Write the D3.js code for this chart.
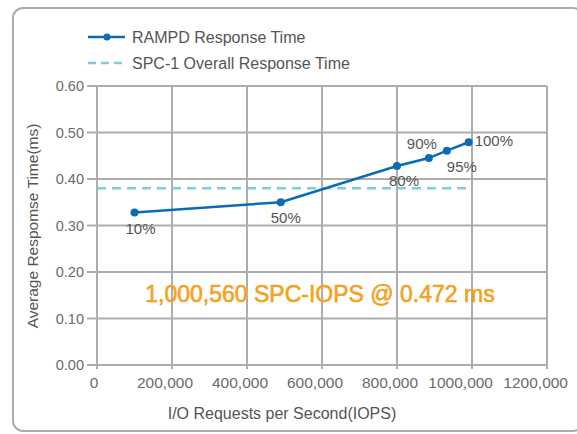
<!DOCTYPE html>
<html>
<head>
<meta charset="utf-8">
<script src="https://d3js.org/d3.v7.min.js"></script>
<style>
  body { margin: 0; background: #fff; }
  text { font-family: "Liberation Sans", Arial, sans-serif; }
</style>
</head>
<body>
<div id="chart"></div>
<script>

// data
const loadLabels = ["10%", "50%", "80%", "90%", "95%", "100%"];
const iops = [100000, 490000, 800000, 885000, 933000, 991000];
const respTime = [0.328, 0.350, 0.428, 0.445, 0.461, 0.479];
const overallResp = 0.380;
const overallRange = [0, 1000000];
const xTicks = [0, 200000, 400000, 600000, 800000, 1000000, 1200000];
const xTickLabels = ["0", "200,000", "400,000", "600,000", "800,000", "1000,000", "1200,000"];
const yTicks = [0, 0.1, 0.2, 0.3, 0.4, 0.5, 0.6];

const W = 577, H = 434;
const margin = {top: 86, right: 30, bottom: 69, left: 97};

const svg = d3.select("#chart").append("svg")
    .attr("width", W)
    .attr("height", H);

// rounded frame
svg.append("rect")
    .attr("x", 13).attr("y", 8)
    .attr("width", 570).attr("height", 423)
    .attr("rx", 10)
    .attr("fill", "none")
    .attr("stroke", "#ababab")
    .attr("stroke-width", 2);

const x = d3.scaleLinear()
    .domain([0, 1200000])
    .range([margin.left, W - margin.right]);
const y = d3.scaleLinear()
    .domain([0, 0.6])
    .range([H - margin.bottom, margin.top]);

const gridColor = "#adadad";

// vertical grid (with little ticks below the axis)
svg.append("g")
  .selectAll("line")
  .data(xTicks)
  .join("line")
    .attr("x1", d => x(d)).attr("x2", d => x(d))
    .attr("y1", y(0.6)).attr("y2", y(0) + 4)
    .attr("stroke", gridColor)
    .attr("stroke-width", 2);

// horizontal grid (with little ticks left of the axis)
svg.append("g")
  .selectAll("line")
  .data(yTicks)
  .join("line")
    .attr("x1", x(0) - 10).attr("x2", x(1200000))
    .attr("y1", d => y(d)).attr("y2", d => y(d))
    .attr("stroke", gridColor)
    .attr("stroke-width", 2);

// tick labels
svg.append("g")
  .selectAll("text")
  .data(yTicks)
  .join("text")
    .attr("x", x(0) - 13)
    .attr("y", d => y(d))
    .attr("dy", "0.35em")
    .attr("text-anchor", "end")
    .attr("fill", "#6b6b6b")
    .style("font-size", "14.5px")
    .text(d => d3.format(".2f")(d));

// x labels sit a bit left of their gridlines, like the original
svg.append("g")
  .selectAll("text")
  .data(xTicks)
  .join("text")
    .attr("x", d => d == 0 ? x(d) - 3 : x(d) + 21)
    .attr("y", y(0) + 18)
    .attr("dy", "0.35em")
    .attr("text-anchor", d => d == 0 ? "middle" : "end")
    .attr("fill", "#6b6b6b")
    .style("font-size", "15.5px")
    .text((d, i) => xTickLabels[i]);

// axis titles
svg.append("text")
    .attr("x", 282).attr("y", 413)
    .attr("dy", "0.35em")
    .attr("text-anchor", "middle")
    .attr("fill", "#555")
    .style("font-size", "16px")
    .text("I/O Requests per Second(IOPS)");

svg.append("text")
    .attr("transform", "translate(33,226) rotate(-90)")
    .attr("dy", "0.35em")
    .attr("text-anchor", "middle")
    .attr("fill", "#555")
    .style("font-size", "15.5px")
    .text("Average Respomse Time(ms)");

const lineColor = "#0a6cb4";
const dashColor = "#80ccd9";

// overall response time (dashed)
svg.append("line")
    .attr("x1", x(overallRange[0])).attr("x2", x(overallRange[1]))
    .attr("y1", y(overallResp)).attr("y2", y(overallResp))
    .attr("stroke", dashColor)
    .attr("stroke-width", 2.5)
    .attr("stroke-dasharray", "9,6");

const pts = iops.map((v, i) => ({x: v, y: respTime[i], label: loadLabels[i]}));

svg.append("path")
    .datum(pts)
    .attr("fill", "none")
    .attr("stroke", lineColor)
    .attr("stroke-width", 2.5)
    .attr("d", d3.line().x(d => x(d.x)).y(d => y(d.y)));

svg.append("g")
  .selectAll("circle")
  .data(pts)
  .join("circle")
    .attr("cx", d => x(d.x))
    .attr("cy", d => y(d.y))
    .attr("r", 4)
    .attr("fill", lineColor);

// label placement per point: dx, dy, anchor
const labelPos = {
  "10%": [6, 16, "middle"],
  "50%": [5, 15, "middle"],
  "80%": [7, 15, "middle"],
  "90%": [-7, -14, "middle"],
  "95%": [15, 16, "middle"],
  "100%": [6, -2, "start"]
};

svg.append("g")
  .selectAll("text")
  .data(pts)
  .join("text")
    .attr("x", d => x(d.x) + labelPos[d.label][0])
    .attr("y", d => y(d.y) + labelPos[d.label][1])
    .attr("dy", "0.35em")
    .attr("text-anchor", d => labelPos[d.label][2])
    .attr("fill", "#555")
    .style("font-size", "15px")
    .text(d => d.label);

// annotation (medium weight: regular glyphs with a thin outline)
svg.append("text")
    .attr("x", 320).attr("y", 302)
    .attr("text-anchor", "middle")
    .attr("fill", "#f5a11c")
    .attr("stroke", "#f5a11c")
    .attr("stroke-width", 0.6)
    .style("font-size", "23px")
    .text("1,000,560 SPC-IOPS @ 0.472 ms");

// legend
const legend = svg.append("g");
legend.append("line")
    .attr("x1", 88).attr("x2", 125).attr("y1", 37).attr("y2", 37)
    .attr("stroke", lineColor).attr("stroke-width", 2.5);
legend.append("circle")
    .attr("cx", 107).attr("cy", 37).attr("r", 3.5)
    .attr("fill", lineColor);
legend.append("text")
    .attr("x", 132).attr("y", 37).attr("dy", "0.35em")
    .attr("fill", "#555").style("font-size", "16px")
    .text("RAMPD Response Time");
legend.append("line")
    .attr("x1", 88).attr("x2", 125).attr("y1", 63).attr("y2", 63)
    .attr("stroke", dashColor).attr("stroke-width", 2.5)
    .attr("stroke-dasharray", "8,5");
legend.append("text")
    .attr("x", 132).attr("y", 63).attr("dy", "0.35em")
    .attr("fill", "#555").style("font-size", "16px")
    .text("SPC-1 Overall Response Time");

</script>
</body>
</html>
